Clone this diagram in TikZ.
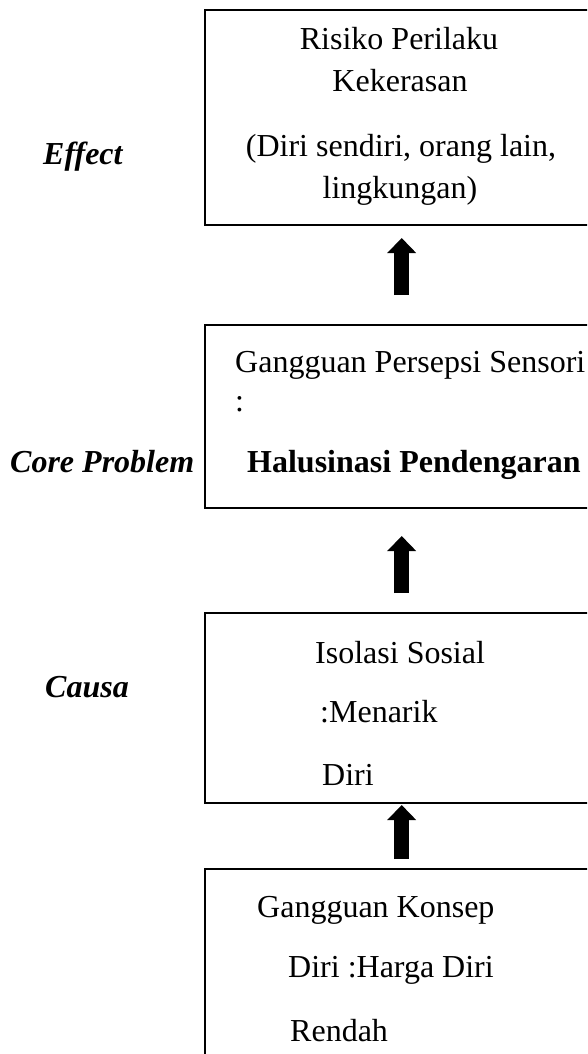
\documentclass[tikz,border=0pt]{standalone}
\usepackage{fontspec}
\setmainfont{Liberation Serif}
\usetikzlibrary{arrows.meta}

\begin{document}
\begin{tikzpicture}[x=1pt,y=1pt,
    font=\fontsize{32}{38}\selectfont,
    kotak/.style={draw, line width=2pt, inner sep=0pt, minimum width=388pt},
    teks/.style={inner sep=0pt, anchor=base},
    teksl/.style={inner sep=0pt, anchor=base west},
    sisi/.style={inner sep=0pt, anchor=base west, font=\fontsize{32}{38}\selectfont\bfseries\itshape},
    panah/.style={line width=15pt, -{Triangle[length=15pt,width=28pt]}}]
                % Frame
                \useasboundingbox (0,0) rectangle (587,-1054);
                \clip (0,0) rectangle (587,-1054);

                % Effect
                \node[kotak, minimum height=214.5pt] (efek) at (399,-117.75) {};
                \node[teks] (efek1) at (399,-50) {Risiko Perilaku};
                \node[teks] (efek2) at (400,-92) {Kekerasan};
                \node[teks] (efek3) at (401,-157) {(Diri sendiri, orang lain,};
                \node[teks] (efek4) at (400,-198) {lingkungan)};
                \node[sisi] (lefek) at (43,-164) {Effect};

                % Core Problem
                \node[kotak, minimum height=183pt] (inti) at (399,-416.5) {};
                \node[teksl] (inti1) at (235,-372) {Gangguan Persepsi Sensori};
                \node[teksl] (inti2) at (235,-411) {:};
                \node[teksl, font=\fontsize{32}{38}\selectfont\bfseries] (inti3) at (247,-472) {Halusinasi Pendengaran};
                \node[sisi] (linti) at (10,-472) {Core Problem};

                % Causa
                \node[kotak, minimum height=190pt] (sebab) at (399,-708) {};
                \node[teksl] (sebab1) at (315,-663) {Isolasi Sosial};
                \node[teksl] (sebab2) at (320,-722) {:Menarik};
                \node[teksl] (sebab3) at (322,-785) {Diri};
                \node[sisi] (lsebab) at (45,-697) {Causa};

                % Harga diri rendah
                \node[kotak, minimum height=200pt] (akar) at (399,-969) {};
                \node[teksl] (akar1) at (257,-917) {Gangguan Konsep};
                \node[teksl] (akar2) at (288,-977) {Diri :Harga Diri};
                \node[teksl] (akar3) at (290,-1041) {Rendah};

                % Arrows
                \draw[panah, shorten <=29pt, shorten >=12pt] ([xshift=2.7pt]inti.north) -- ([xshift=2.7pt]efek.south);
                \draw[panah, shorten <=19pt, shorten >=27pt] ([xshift=2.7pt]sebab.north) -- ([xshift=2.7pt]inti.south);
                \draw[panah, shorten <=9pt, shorten >=1pt] ([xshift=2.7pt]akar.north) -- ([xshift=2.7pt]sebab.south);
            \end{tikzpicture}
\end{document}
